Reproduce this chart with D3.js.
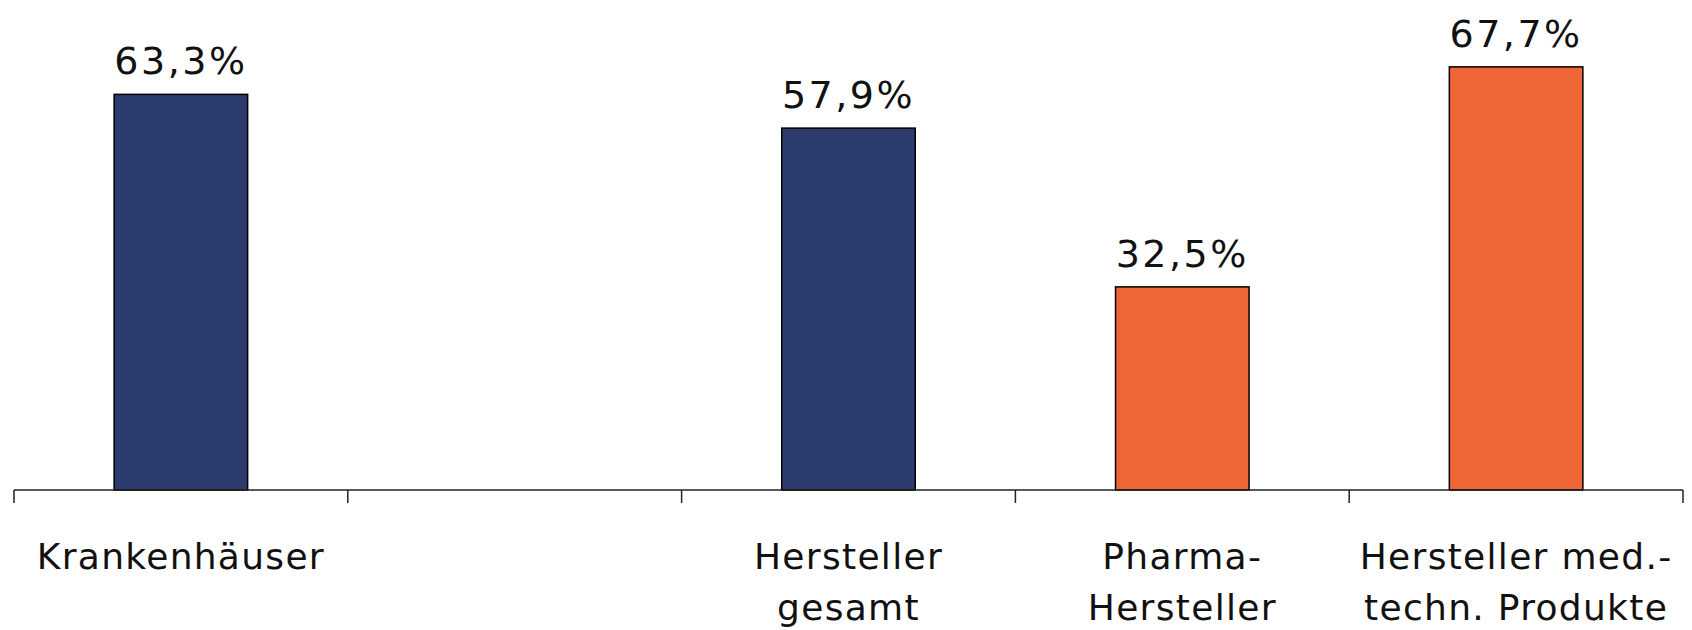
<!DOCTYPE html>
<html>
<head>
<meta charset="utf-8">
<script src="https://cdn.jsdelivr.net/npm/d3@7/dist/d3.min.js"></script>
<style>
  html, body { margin: 0; padding: 0; background: #fff; }
  svg { display: block; }
  text { font-family: "DejaVu Sans", Verdana, sans-serif; fill: #111; }
</style>
</head>
<body>
<svg id="chart" width="1692" height="630"></svg>
<script>
const categories = ["Krankenhäuser", "", "Hersteller gesamt", "Pharma-Hersteller", "Hersteller med.-techn. Produkte"];
const categoryLines = [["Krankenhäuser"], [], ["Hersteller", "gesamt"], ["Pharma-", "Hersteller"], ["Hersteller med.-", "techn. Produkte"]];
const values = [63.3, null, 57.9, 32.5, 67.7];
const valueLabels = ["63,3%", "", "57,9%", "32,5%", "67,7%"];
const groups = ["a", "a", "a", "b", "b"];
const colors = { a: "#2c3c6e", b: "#f06535" };

const svg = d3.select("#chart");
const x = d3.scaleBand().domain(d3.range(categories.length)).range([14, 1683]).padding(0);
const y = d3.scaleLinear().domain([0, 70]).range([490, 490 - 70 * 6.25]);
const barW = x.bandwidth() * 0.4;

const data = categories.map((c, i) => ({ i, c, v: values[i], label: valueLabels[i], g: groups[i], lines: categoryLines[i] }));

// bars
svg.append("g").selectAll("rect")
  .data(data.filter(d => d.v != null))
  .join("rect")
  .attr("x", d => x(d.i) + (x.bandwidth() - barW) / 2)
  .attr("y", d => y(d.v))
  .attr("width", barW)
  .attr("height", d => y(0) - y(d.v))
  .attr("fill", d => colors[d.g])
  .attr("stroke", "#000")
  .attr("stroke-width", 1.5);

// axis line and ticks at category boundaries
const axisG = svg.append("g");
axisG.append("line")
  .attr("x1", x.range()[0]).attr("x2", x.range()[1])
  .attr("y1", y(0)).attr("y2", y(0))
  .attr("stroke", "#222").attr("stroke-width", 1.5);
const bounds = d3.range(categories.length + 1).map(i => i < categories.length ? x(i) : x.range()[1]);
axisG.selectAll("line.tick")
  .data(bounds)
  .join("line")
  .attr("class", "tick")
  .attr("x1", d => d).attr("x2", d => d)
  .attr("y1", y(0)).attr("y2", y(0) + 13)
  .attr("stroke", "#222").attr("stroke-width", 1.5);

// value labels
svg.append("g").selectAll("text")
  .data(data.filter(d => d.v != null))
  .join("text")
  .attr("x", d => x(d.i) + x.bandwidth() / 2)
  .attr("y", d => y(d.v) - 20)
  .attr("text-anchor", "middle")
  .style("font-size", "38px")
  .style("letter-spacing", "2.5px")
  .text(d => d.label);

// category labels
const catG = svg.append("g").selectAll("text")
  .data(data)
  .join("text")
  .attr("x", d => x(d.i) + x.bandwidth() / 2)
  .attr("y", 569)
  .attr("text-anchor", "middle")
  .style("font-size", "36px")
  .style("letter-spacing", "1.3px");
catG.selectAll("tspan")
  .data(d => d.lines.map((l, k) => ({ l, k, cx: x(d.i) + x.bandwidth() / 2 })))
  .join("tspan")
  .attr("x", t => t.cx)
  .attr("dy", t => t.k === 0 ? 0 : 51)
  .text(t => t.l);
</script>
</body>
</html>
